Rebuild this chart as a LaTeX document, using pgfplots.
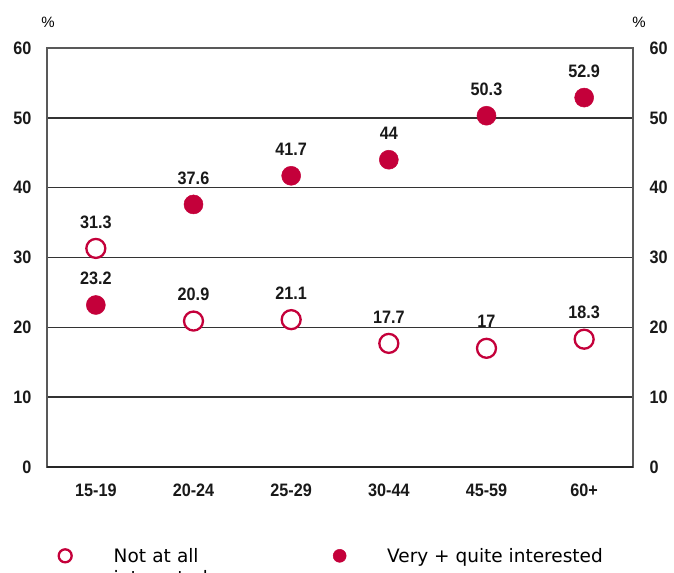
\documentclass[border=0pt]{standalone}
\usepackage{fontspec}
\setmainfont{Liberation Sans}
\newfontfamily\legfont{DejaVu Sans}
\newfontfamily\narrowfont{Liberation Sans}[FakeStretch=0.9]
\usepackage{pgfplots}
\pgfplotsset{compat=1.18}
\definecolor{crim}{HTML}{C4003A}
\begin{document}
\begin{tikzpicture}[x=1bp,y=1bp]
\begin{axis}[
  at={(47bp,106bp)}, anchor=south west,
  scale only axis, width=586bp, height=419bp,
  xmin=-0.5, xmax=5.5, ymin=0, ymax=60,
  xtick={0,...,5}, xticklabels={15-19,20-24,25-29,30-44,45-59,60+},
  ytick={0,10,...,60},
  ymajorgrids, grid style={black!80, line width=1.6bp},
  major tick length=0pt,
  axis line style={draw=black!65, line width=1.5bp},
  tick label style={font=\narrowfont\fontsize{18bp}{20bp}\selectfont\bfseries, text=black!90},
  /pgf/number format/assume math mode=true,
  yticklabel style={xshift=-12bp},
  xticklabel style={yshift=-13bp},
  clip=false,
  nodes near coords style={font=\narrowfont\fontsize{18bp}{20bp}\selectfont\bfseries, anchor=center, yshift=26.5bp, text=black!90},
  legend columns=2,
  legend image code/.code={\draw[#1, mark size=6.5bp] plot coordinates {(0bp,0bp)};},
  legend style={draw=none, fill=none, at={(0.0196,-0.212)}, anchor=west, inner sep=0pt,
    font=\legfont\fontsize{18.5bp}{22bp}\selectfont,
    cells={align=left, inner sep=0pt, anchor=west},
    /tikz/column 1/.style={column sep=40bp},
    /tikz/column 2/.style={column sep=67.5bp},
    /tikz/column 3/.style={column sep=39bp}},
]
\addplot[only marks, mark=*, mark size=9.5bp, mark options={draw=crim, fill=white, line width=2.3bp},
  nodes near coords, point meta=explicit symbolic]
  coordinates {(0,31.3)[31.3] (1,20.9)[20.9] (2,21.1)[21.1] (3,17.7)[17.7] (4,17)[17] (5,18.3)[18.3]};
\addlegendentry[text width=150bp]{Not at all\\interested}
\addplot[only marks, mark=*, mark size=9.5bp, mark options={draw=crim, fill=crim, line width=0.5bp},
  nodes near coords, point meta=explicit symbolic]
  coordinates {(0,23.2)[23.2] (1,37.6)[37.6] (2,41.7)[41.7] (3,44)[44] (4,50.3)[50.3] (5,52.9)[52.9]};
\addlegendentry{Very + quite interested}
\draw[black!85, line width=2.4bp] (rel axis cs:0,0) -- (rel axis cs:1,0);
\node[font=\fontsize{15bp}{18bp}\selectfont] at (rel axis cs:0,1) [xshift=1bp, yshift=26bp] {\%};
\node[font=\fontsize{15bp}{18bp}\selectfont] at (rel axis cs:1,1) [xshift=6bp, yshift=26bp] {\%};
\end{axis}
\begin{axis}[
  at={(47bp,106bp)}, anchor=south west,
  scale only axis, width=586bp, height=419bp,
  xmin=-0.5, xmax=5.5, ymin=0, ymax=60,
  hide x axis, axis y line*=right, y axis line style={draw=none},
  ytick={0,10,...,60}, major tick length=0pt,
  tick label style={font=\narrowfont\fontsize{18bp}{20bp}\selectfont\bfseries, text=black!90},
  /pgf/number format/assume math mode=true,
  yticklabel style={xshift=13bp},
]
\addplot[draw=none] coordinates {(0,0) (5,60)};
\end{axis}
\pgfresetboundingbox
\useasboundingbox (0,0) rectangle (674bp,573bp);
\end{tikzpicture}
\end{document}
